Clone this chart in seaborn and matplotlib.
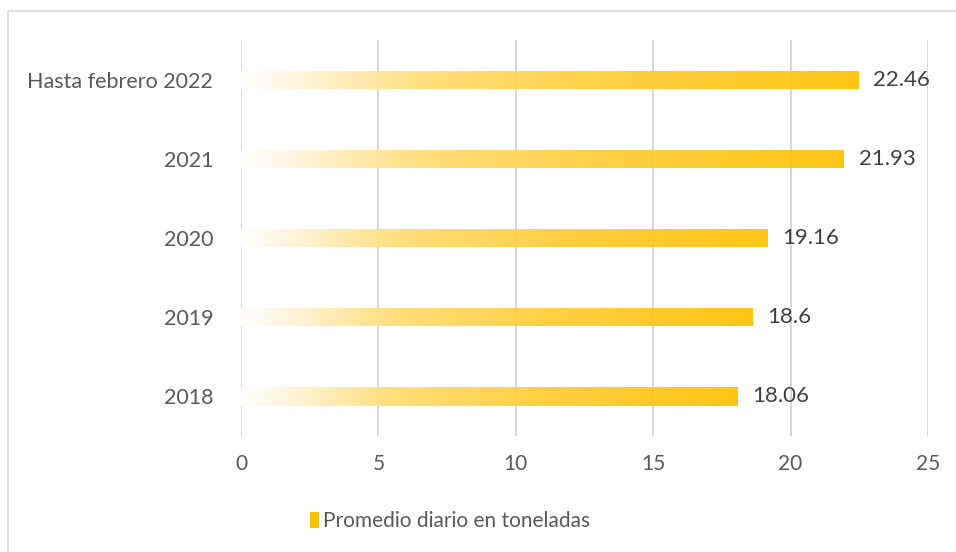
import matplotlib
matplotlib.use("Agg")
import matplotlib.pyplot as plt
from matplotlib.colors import LinearSegmentedColormap
from matplotlib.patches import Rectangle
import numpy as np
import pandas as pd
import seaborn as sns

# datos
categorias = ["Hasta febrero 2022", "2021", "2020", "2019", "2018"]
valores = [22.46, 21.93, 19.16, 18.6, 18.06]
etiquetas = ["22.46", "21.93", "19.16", "18.6", "18.06"]
serie = "Promedio diario en toneladas"

df = pd.DataFrame({"cat": categorias, "val": valores})

sns.set_theme(style="white")
plt.rcParams["font.family"] = ["Lato", "DejaVu Sans"]

fig = plt.figure(figsize=(9.56, 5.52), dpi=100)
ax = fig.add_axes([0.2521, 0.2101, 0.7186, 0.7174])

sns.barplot(data=df, x="val", y="cat", orient="h", color="#FFC000",
            width=0.23, ax=ax, zorder=3)

# degradado blanco -> dorado
cmap = LinearSegmentedColormap.from_list(
    "oro", [(0, "#FFFFFF"), (0.12, "#FFF1CC"), (0.3, "#FFDC70"),
            (0.6, "#FFCC33"), (1, "#FFC000")])
grad = np.linspace(0, 1, 256).reshape(1, -1)
for p in ax.patches:
    x0, y0 = p.get_x(), p.get_y()
    w, h = p.get_width(), p.get_height()
    p.set_facecolor("none")
    p.set_edgecolor("none")
    im = ax.imshow(grad, cmap=cmap, aspect="auto", extent=[x0, x0 + w, y0 + h, y0],
                   zorder=3, alpha=0.92)
    im.set_clip_path(p)

ax.set_xlim(0, 25)
ax.set_ylim(4.5, -0.5)
ax.set_xticks([0, 5, 10, 15, 20, 25])
ax.xaxis.grid(True, color="#D0D0D0", linewidth=1.2, zorder=0)
ax.set_axisbelow(True)
for s in ax.spines.values():
    s.set_visible(False)
ax.set_xlabel("")
ax.set_ylabel("")
ax.tick_params(axis="x", length=0, pad=13, labelsize=15, labelcolor="#595959")
ax.tick_params(axis="y", length=0, pad=20, labelsize=15.5, labelcolor="#595959")

for i, v in enumerate(valores):
    ax.text(v + 0.55, i, etiquetas[i], va="center", ha="left",
            fontsize=16, color="#404040", zorder=4)

# leyenda
h = Rectangle((0, 0), 1, 1, facecolor="#FFC000", edgecolor="none")
fig.legend([h], [serie], loc="center", bbox_to_anchor=(450 / 956, 1 - 521 / 552),
           frameon=False, fontsize=15, handlelength=0.45, handleheight=0.8,
           handletextpad=0.2, labelcolor="#595959")

# marco
fig.patches.append(Rectangle((8 / 956, -0.1), 1.2, 1.1 - 11 / 552,
                             transform=fig.transFigure, fill=False,
                             edgecolor="#D9D9D9", linewidth=1.2))

fig.savefig("out.png", dpi=100, facecolor="white")
